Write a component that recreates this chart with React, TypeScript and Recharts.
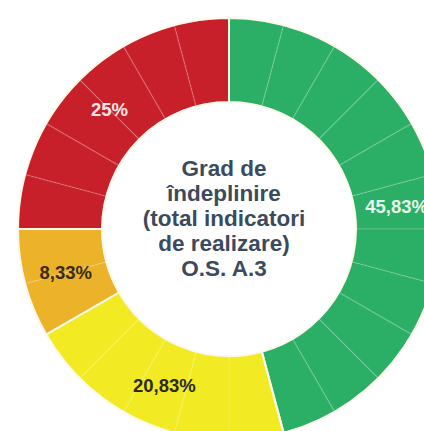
import { PieChart, Pie, Cell } from 'recharts'

const categories = ['Realizat', 'Parțial', 'Întârziat', 'Nerealizat']
const indicatorCounts = [11, 5, 2, 6]
const percentLabels = ['45,83%', '20,83%', '8,33%', '25%']
const colors = ['#2bae66', '#f2ea22', '#ebb22a', '#c8202a']
const labelColors = ['#e6f7ec', '#2b2b20', '#3a2c10', '#fbe6e6']
const centerLines = ['Grad de', 'îndeplinire', '(total indicatori', 'de realizare)', 'O.S. A.3']

const CX = 224
const CY = 224
const INNER = 127
const OUTER = 211

const data = categories.map((name, i) => ({
  name,
  value: indicatorCounts[i],
  label: percentLabels[i],
}))

// one slice per indicator, so the thin divider lines show inside each segment
const units = categories.flatMap((name, i) =>
  Array.from({ length: indicatorCounts[i] }, (_, j) => ({ name: `${name}-${j}`, value: 1, color: colors[i] }))
)

const RAD = Math.PI / 180

function renderLabel(props: any) {
  const { cx, cy, midAngle, innerRadius, outerRadius, index } = props
  const r = (innerRadius + outerRadius) / 2
  const x = cx + r * Math.cos(-midAngle * RAD)
  const y = cy + r * Math.sin(-midAngle * RAD)
  return (
    <text
      x={x}
      y={y}
      fill={labelColors[index]}
      textAnchor="middle"
      dominantBaseline="central"
      fontFamily="'Liberation Sans', Arial, sans-serif"
      fontWeight="bold"
      fontSize={18.5}
    >
      {data[index].label}
    </text>
  )
}

export default function App() {
  return (
    <div style={{ width: 424, height: 431, background: '#fff' }}>
      <style>{'body{margin:0}'}</style>
      <PieChart width={424} height={431}>
        <Pie
          data={units}
          dataKey="value"
          cx={CX}
          cy={CY}
          innerRadius={INNER}
          outerRadius={OUTER}
          startAngle={90}
          endAngle={-270}
          stroke="rgba(255,255,255,0.12)"
          strokeWidth={1.5}
          isAnimationActive={false}
        >
          {units.map((u) => (
            <Cell key={u.name} fill={u.color} />
          ))}
        </Pie>
        <Pie
          data={data}
          dataKey="value"
          cx={CX}
          cy={CY}
          innerRadius={INNER}
          outerRadius={OUTER}
          startAngle={90}
          endAngle={-270}
          stroke="#fdf8e8"
          strokeWidth={2}
          label={renderLabel}
          labelLine={false}
          isAnimationActive={false}
        >
          {data.map((d) => (
            <Cell key={d.name} fill="none" />
          ))}
        </Pie>
        <text
          x={CX}
          textAnchor="middle"
          fill="#3b4a5c"
          fontFamily="'Liberation Sans', Arial, sans-serif"
          fontWeight="bold"
          fontSize={22.5}
        >
          {centerLines.map((line, i) => (
            <tspan key={line} x={CX} y={176 + i * 25}>
              {line}
            </tspan>
          ))}
        </text>
      </PieChart>
    </div>
  )
}
